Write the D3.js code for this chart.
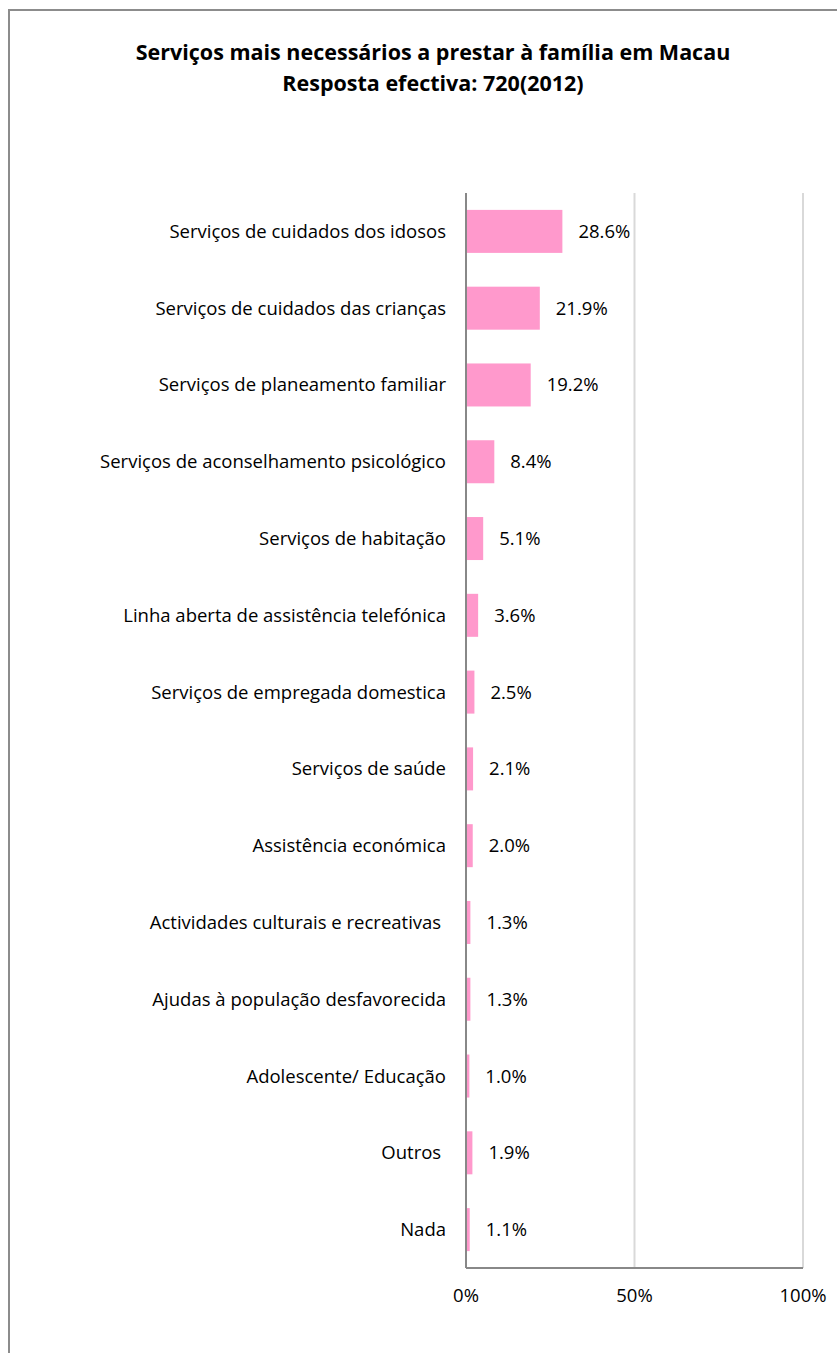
<!DOCTYPE html>
<html><head><meta charset="utf-8">
<script src="https://cdn.jsdelivr.net/npm/d3@7"></script>
<style>
body{margin:0;background:#fff;}
text{white-space:pre;}
</style></head>
<body>
<svg id="chart" width="837" height="1353"></svg>
<script>
const titleLines = ["Serviços mais necessários a prestar à família em Macau", "Resposta efectiva: 720(2012)"];
const categories = [
  "Serviços de cuidados dos idosos",
  "Serviços de cuidados das crianças",
  "Serviços de planeamento familiar",
  "Serviços de aconselhamento psicológico",
  "Serviços de habitação",
  "Linha aberta de assistência telefónica",
  "Serviços de empregada domestica",
  "Serviços de saúde",
  "Assistência económica",
  "Actividades culturais e recreativas ",
  "Ajudas à população desfavorecida",
  "Adolescente/ Educação",
  "Outros ",
  "Nada"
];
const values = [0.286, 0.219, 0.192, 0.084, 0.051, 0.036, 0.025, 0.021, 0.020, 0.013, 0.013, 0.010, 0.019, 0.011];
const tickValues = [0, 0.5, 1];

const svg = d3.select("#chart");
const font = "'Open Sans', sans-serif";

svg.append("rect").attr("x", 9).attr("y", 10).attr("width", 840).attr("height", 1360)
  .attr("fill", "#fff").attr("stroke", "#8c8c8c").attr("stroke-width", 2);

const x = d3.scaleLinear().domain([0, 1]).range([466, 803]);
const y = d3.scaleBand().domain(categories).range([193, 1268]).paddingInner(0.44).paddingOuter(0.22);

// gridlines
svg.append("g").selectAll("line").data(tickValues.slice(1)).join("line")
  .attr("x1", d => x(d)).attr("x2", d => x(d)).attr("y1", 193).attr("y2", 1268)
  .attr("stroke", "#d9d9d9").attr("stroke-width", 2);

// bars
svg.append("g").selectAll("rect").data(categories).join("rect")
  .attr("x", x(0)).attr("y", d => y(d))
  .attr("width", (d, i) => x(values[i]) - x(0))
  .attr("height", y.bandwidth())
  .attr("fill", "#ff99cc");

// axes lines
svg.append("line").attr("x1", x(0)).attr("x2", x(0)).attr("y1", 193).attr("y2", 1268)
  .attr("stroke", "#888").attr("stroke-width", 2);
svg.append("line").attr("x1", x(0)).attr("x2", x(1)).attr("y1", 1268).attr("y2", 1268)
  .attr("stroke", "#888").attr("stroke-width", 2);

// category labels
svg.append("g").selectAll("text").data(categories).join("text")
  .attr("x", 446).attr("y", d => y(d) + y.bandwidth() / 2)
  .attr("dy", "0.35em").attr("text-anchor", "end")
  .attr("font-family", font).attr("font-size", 18.5).attr("fill", "#000")
  .text(d => d);

// value labels
svg.append("g").selectAll("text").data(categories).join("text")
  .attr("x", (d, i) => x(values[i]) + 16).attr("y", d => y(d) + y.bandwidth() / 2)
  .attr("dy", "0.35em")
  .attr("font-family", font).attr("font-size", 18.5).attr("fill", "#000")
  .text((d, i) => d3.format(".1%")(values[i]));

// tick labels
svg.append("g").selectAll("text").data(tickValues).join("text")
  .attr("x", d => x(d)).attr("y", 1296).attr("dy", "0.35em").attr("text-anchor", "middle")
  .attr("font-family", font).attr("font-size", 18.5).attr("fill", "#000")
  .text(d => d3.format(".0%")(d));

// title
svg.append("g").selectAll("text").data(titleLines).join("text")
  .attr("x", 433).attr("y", (d, i) => 52 + i * 31).attr("dy", "0.35em").attr("text-anchor", "middle")
  .attr("font-family", font).attr("font-size", 21.5).attr("font-weight", "bold").attr("fill", "#000")
  .text(d => d);
</script>
</body></html>
